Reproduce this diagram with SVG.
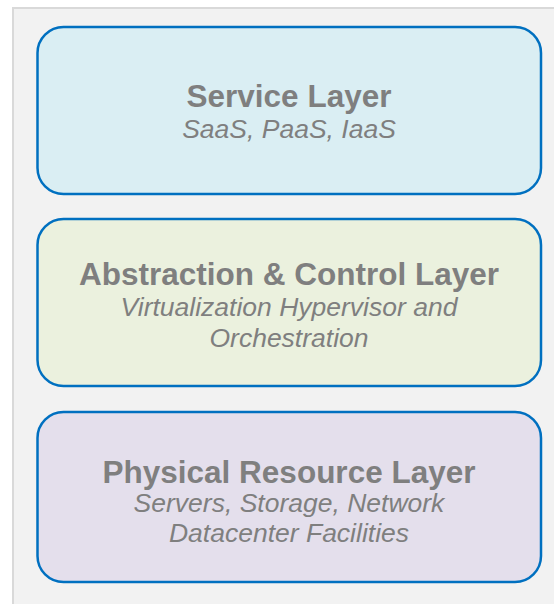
<svg xmlns="http://www.w3.org/2000/svg" width="554" height="604" viewBox="0 0 554 604">
  <style>
    .layer { stroke: #0070c0; stroke-width: 2.5; }
    .title { font-family: "Liberation Sans", Arial, sans-serif; font-weight: bold; font-size: 31.5px; fill: #7f7f7f; text-anchor: middle; }
    .sub { font-family: "Liberation Sans", Arial, sans-serif; font-style: italic; font-size: 26.5px; fill: #7f7f7f; text-anchor: middle; }
  </style>
  <rect width="554" height="604" fill="#ffffff"/>
  <!-- background panel -->
  <rect x="13" y="8" width="560" height="620" fill="#f2f2f2" stroke="#d9d9d9" stroke-width="2"/>

  <g id="service-layer">
    <rect class="layer" x="37.5" y="27" width="503.5" height="167" rx="26" fill="#daeef3"/>
    <text class="title" x="289" y="107">Service Layer</text>
    <text class="sub" x="289" y="138">SaaS, PaaS, IaaS</text>
  </g>

  <g id="abstraction-layer">
    <rect class="layer" x="37.5" y="219" width="503.5" height="167" rx="26" fill="#ebf1de"/>
    <text class="title" x="289" y="285">Abstraction &amp; Control Layer</text>
    <text class="sub" x="289" y="316">Virtualization Hypervisor and</text>
    <text class="sub" x="289" y="347">Orchestration</text>
  </g>

  <g id="physical-layer">
    <rect class="layer" x="37.5" y="412" width="503.5" height="170" rx="26" fill="#e4dfec"/>
    <text class="title" x="289" y="483">Physical Resource Layer</text>
    <text class="sub" x="289" y="512">Servers, Storage, Network</text>
    <text class="sub" x="289" y="542">Datacenter Facilities</text>
  </g>

  <g id="connectors"></g>
</svg>
